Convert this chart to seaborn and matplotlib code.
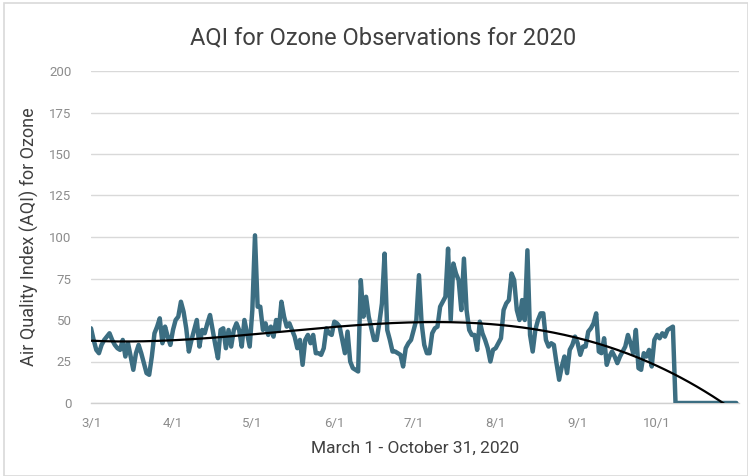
import numpy as np
import pandas as pd
import matplotlib
matplotlib.use("Agg")
import matplotlib.pyplot as plt
import seaborn as sns
from matplotlib import font_manager
from matplotlib.patches import Rectangle

# ---- data (daily AQI for ozone, 3/1/2020 - 10/31/2020) ----
aqi_active = [
    45, 38, 32, 30, 35, 38, 40, 42, 38, 35,
    33, 32, 38, 28, 36, 28, 20, 30, 35, 30,
    24, 18, 17, 28, 42, 46, 51, 36, 46, 40,
    35, 44, 50, 52, 61, 55, 45, 31, 38, 44,
    50, 34, 44, 42, 48, 53, 44, 35, 27, 44,
    45, 33, 44, 34, 44, 48, 44, 34, 50, 42,
    34, 56, 101, 58, 58, 44, 48, 41, 46, 40,
    50, 44, 61, 52, 46, 48, 44, 40, 33, 38,
    23, 38, 41, 36, 41, 30, 30, 29, 33, 45,
    42, 41, 49, 48, 46, 38, 30, 43, 25, 21,
    20, 19, 74, 52, 64, 52, 45, 38, 38, 48,
    60, 90, 44, 38, 31, 31, 30, 29, 22, 33,
    36, 38, 44, 50, 77, 48, 35, 30, 30, 42,
    45, 46, 58, 61, 64, 93, 50, 84, 78, 74,
    56, 87, 56, 44, 41, 41, 32, 49, 42, 38,
    33, 25, 32, 33, 36, 39, 56, 60, 62, 78,
    74, 56, 50, 62, 50, 92, 41, 31, 44, 50,
    54, 54, 38, 34, 36, 35, 24, 14, 22, 28,
    18, 32, 35, 40, 36, 29, 34, 34, 43, 45,
    48, 54, 31, 30, 39, 23, 28, 31, 28, 24,
    28, 31, 34, 41, 36, 30, 44, 21, 20, 30,
    28, 32, 22, 38, 41, 39, 42, 40, 44, 45,
    46,
]
aqi_missing = [0] * 24
aqi = aqi_active + aqi_missing
dates = pd.date_range("2020-03-01", "2020-10-31", freq="D")
assert len(dates) == len(aqi)

tick_dates = ["2020-03-01", "2020-04-01", "2020-05-01", "2020-06-01",
              "2020-07-01", "2020-08-01", "2020-09-01", "2020-10-01", "2020-11-01"]
tick_labels = ["3/1", "4/1", "5/1", "6/1", "7/1", "8/1", "9/1", "10/1", ""]
y_ticks = [0, 25, 50, 75, 100, 125, 150, 175, 200]

title = "AQI for Ozone Observations for 2020"
xlabel = "March 1 - October 31, 2020"
ylabel = "Air Quality Index (AQI) for Ozone"

df = pd.DataFrame({"date": dates, "aqi": aqi})
df["day"] = (df["date"] - df["date"].iloc[0]).dt.days
coef = np.polyfit(df["day"], df["aqi"], 3)
df["trend"] = np.polyval(coef, df["day"])

# ---- style ----
sns.set_style("white")
names = {f.name for f in font_manager.fontManager.ttflist}
main_font = "Liberation Sans Narrow" if "Liberation Sans Narrow" in names else "Roboto"
plt.rcParams["font.family"] = [main_font, "DejaVu Sans"]

fig = plt.figure(figsize=(7.48, 4.76), dpi=100)
ax = fig.add_axes([91 / 748, 1 - 403 / 476, (739 - 91) / 748, (403 - 71) / 476])

sns.lineplot(data=df, x="date", y="aqi", ax=ax, color="#3C6E82", linewidth=3.2,
             zorder=3)
sns.lineplot(data=df, x="date", y="trend", ax=ax, color="black", linewidth=1.6,
             zorder=4)

ax.set_ylim(0, 200)
ax.set_xlim(pd.Timestamp("2020-03-01"), pd.Timestamp("2020-11-01"))
ax.set_yticks(y_ticks)
ax.set_xticks(pd.to_datetime(tick_dates))
ax.set_xticklabels(tick_labels)
ax.grid(axis="y", color="#d9d9d9", linewidth=1.0)
ax.set_axisbelow(True)
for s in ["top", "right", "left"]:
    ax.spines[s].set_visible(False)
ax.spines["bottom"].set_color("#d0d0d0")
ax.spines["bottom"].set_linewidth(1.0)
ax.tick_params(axis="x", length=5, width=1, color="#d0d0d0", colors="#8c8c8c",
               labelsize=9.5, pad=5)
ax.tick_params(axis="x", color="#d0d0d0")
ax.tick_params(axis="y", length=0, colors="#8c8c8c", labelsize=9.5, pad=14)

ax.set_xlabel(xlabel, fontsize=12.5, color="#404040", labelpad=8)
ax.set_ylabel(ylabel, fontsize=13, color="#404040", labelpad=7)
fig.text(383 / 748, 1 - 38 / 476, title, ha="center", va="center",
         fontsize=17, color="#404040")

fig.patches.append(Rectangle((4 / 748, 0), 1 - 4 / 748, 1 - 3 / 476,
                             transform=fig.transFigure, fill=False,
                             edgecolor="#d9d9d9", linewidth=1.2))

fig.savefig("out.png", dpi=100)
